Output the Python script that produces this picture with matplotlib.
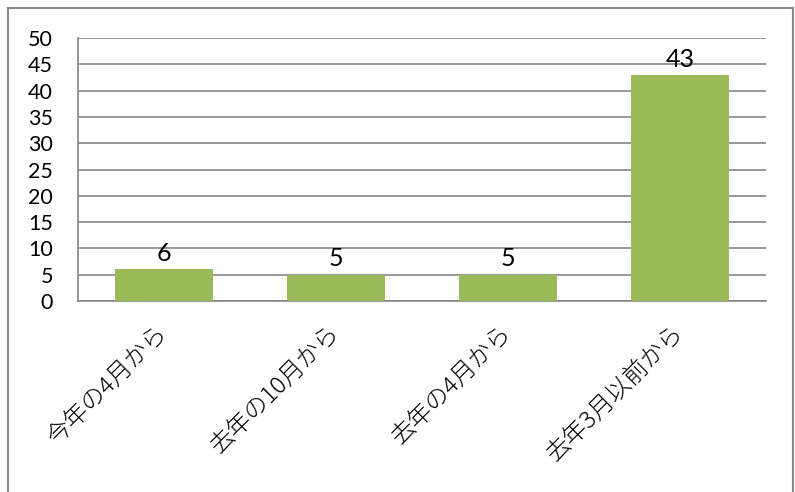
import matplotlib
matplotlib.use('Agg')
import matplotlib.pyplot as plt
from matplotlib.patches import Rectangle

categories = ['今年の4月から', '去年の10月から', '去年の4月から', '去年3月以前から']
values = [6, 5, 5, 43]
yticks = [0, 5, 10, 15, 20, 25, 30, 35, 40, 45, 50]

plt.rcParams['font.family'] = ['Lato', 'Noto Sans CJK JP', 'DejaVu Sans']

fig = plt.figure(figsize=(7.95, 4.92), dpi=100)
ax = fig.add_axes([78 / 795, 1 - 301 / 492, 688 / 795, 263 / 492])

x = range(len(categories))
bars = ax.bar(x, values, width=0.565, color='#9BBB59', zorder=3)
for xi, v in zip(x, values):
    ax.text(xi, v + 0.8, str(v), ha='center', va='bottom', fontsize=18, color='black')

ax.set_ylim(0, 50)
ax.set_xlim(-0.5, len(categories) - 0.5)
ax.set_yticks(yticks)
ax.yaxis.grid(True, color='#868686', linewidth=1.2, zorder=0)
ax.tick_params(axis='y', length=0, pad=18, labelsize=15.5)
ax.tick_params(axis='x', length=0, pad=20)
ax.set_xticks(list(x))
ax.set_xticklabels(categories, rotation=45, ha='right', va='center',
                   rotation_mode='anchor', fontsize=17.5, fontweight='light',
                   family=['Noto Sans CJK JP', 'DejaVu Sans'])

for side in ['top', 'right']:
    ax.spines[side].set_visible(False)
for side in ['left', 'bottom']:
    ax.spines[side].set_color('#868686')
    ax.spines[side].set_linewidth(1.2)

# outer chart border
fig.patches.append(Rectangle((8 / 795, -0.1), 785 / 795, (484 / 492) + 0.1,
                             transform=fig.transFigure, fill=False,
                             edgecolor='#898989', linewidth=1.5))

plt.savefig('out.png', dpi=100)
